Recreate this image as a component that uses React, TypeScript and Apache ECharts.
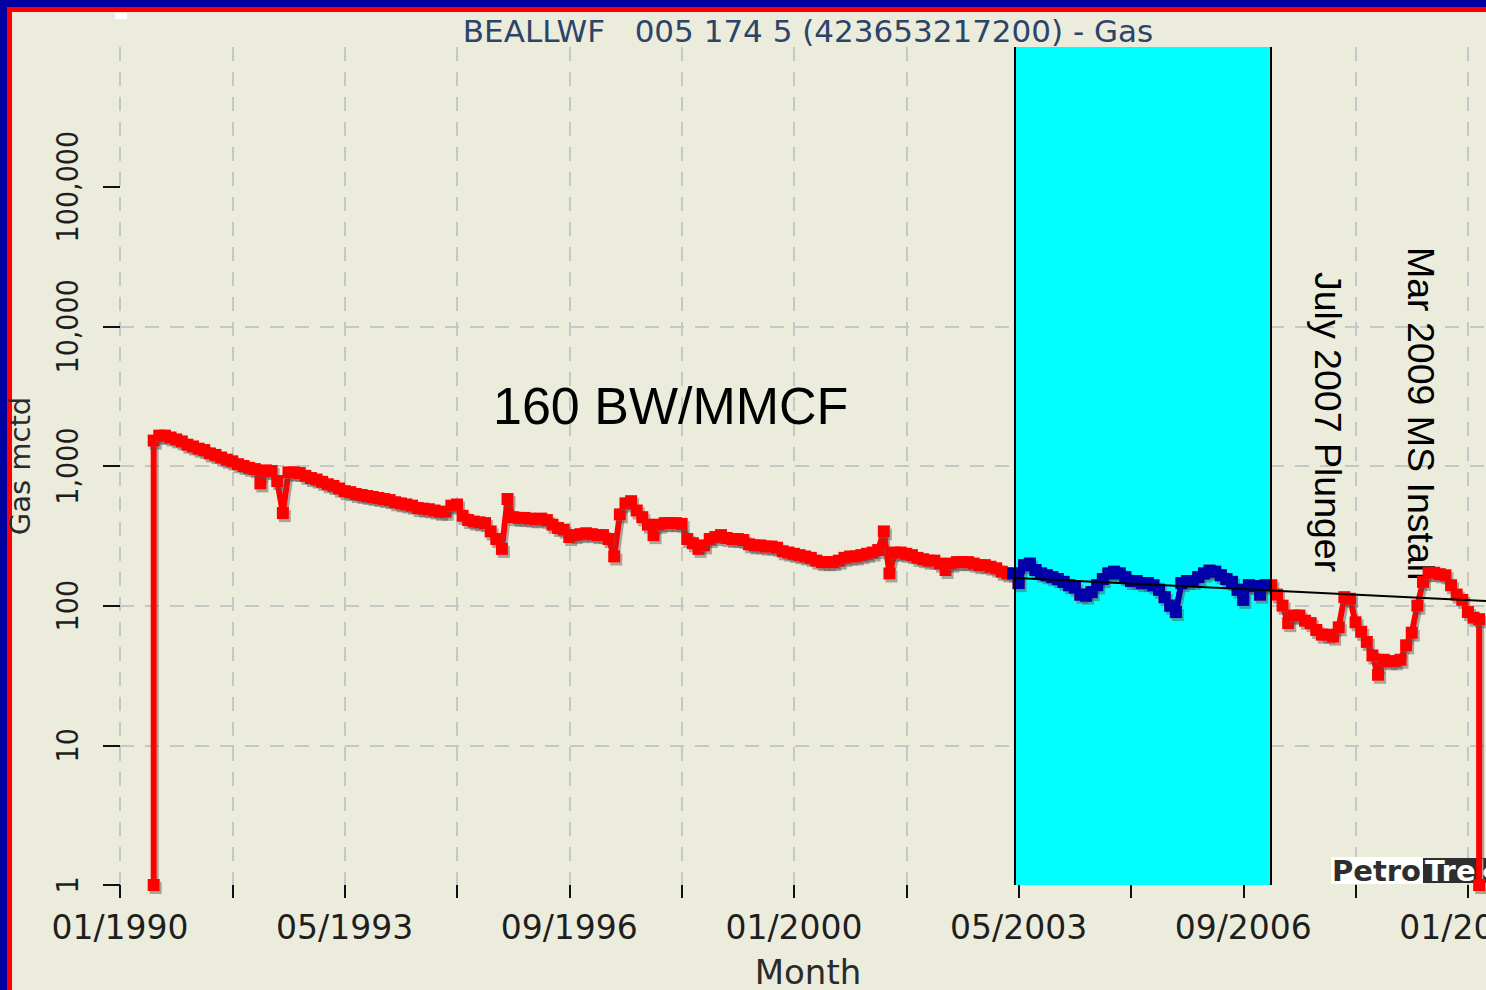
import React, { useEffect, useRef } from "react";
import * as echarts from "echarts";

// ---------- data ----------
const TITLE = "BEALLWF\u00a0\u00a0\u00a0005 174 5 (423653217200) - Gas";
const X_NAME = "Month";
const Y_NAME = "Gas mctd";

// month index counted from 01/1990 (0 = Jan 1990)
const firstMonth = 6;
const dropValue = 1; // first and last readings fall to the bottom of the log scale
// monthly gas rate (mcf/d), months 6 .. 242
const gasValues = [
  1520, 1650, 1650, 1600, 1550, 1500, 1420, 1380, 1330, 1300, // 6-15
  1230, 1200, 1150, 1110, 1080, 1030, 1000, 970, 950, 750, // 16-25
  930, 920, 780, 460, 900, 900, 890, 850, 820, 800, // 26-35
  770, 740, 720, 690, 660, 650, 630, 620, 610, 600, // 36-45
  590, 580, 570, 550, 540, 530, 520, 500, 495, 490, // 46-55
  480, 470, 470, 520, 530, 440, 410, 400, 395, 390, // 56-65
  340, 300, 255, 580, 430, 425, 425, 420, 415, 420, // 66-75
  410, 380, 360, 350, 310, 320, 325, 330, 325, 320, // 76-85
  320, 300, 225, 450, 540, 560, 480, 430, 380, 320, // 86-95
  380, 390, 390, 390, 385, 300, 280, 255, 270, 300, // 96-105
  310, 320, 305, 300, 300, 295, 275, 270, 270, 265, // 106-115
  265, 260, 245, 240, 235, 230, 225, 220, 210, 205, // 116-125
  205, 205, 210, 220, 225, 225, 230, 235, 240, 250, // 126-135
  340, 170, 240, 240, 235, 230, 220, 215, 210, 210, // 136-145
  200, 180, 200, 205, 205, 205, 200, 195, 195, 190, // 146-155
  185, 175, 170, 170, 145, 195, 200, 180, 170, 165, // 156-165
  160, 155, 148, 140, 135, 120, 118, 125, 140, 155, // 166-175
  170, 175, 170, 160, 150, 150, 145, 145, 140, 130, // 176-185
  115, 100, 90, 145, 150, 150, 160, 170, 178, 175, // 186-195
  165, 155, 148, 130, 110, 140, 138, 120, 140, 140, // 196-205
  120, 100, 75, 85, 85, 78, 75, 67, 62, 62, // 206-215
  60, 70, 115, 112, 76, 65, 55, 44, 32, 41, // 216-225
  40, 40, 41, 52, 64, 100, 148, 171, 172, 168, // 226-235
  165, 140, 120, 110, 90, 82, 80, // 236-242
];
const highlightMonths = [159, 204]; // months drawn in blue
const highlightRange = [159.3, 204.9]; // cyan analysis window
const trendMonths = [159.3, 245];
const trendValues = [158, 107];
const xMin = 0;
const xMax = 245;
const xTickStep = 20;
const xLabelStep = 40;
const yTickValues = [1, 10, 100, 1000, 10000, 100000];
const yMin = 1;
const yMax = 1000000;

const noteRatio = "160 BW/MMCF";
const notePlunger = "July 2007 Plunger";
const noteMS = "Mar 2009 MS Install";

// ---------- helpers ----------
const monthLabel = (m: number) => {
  const mm = (m % 12) + 1;
  const yy = 1990 + Math.floor(m / 12);
  return `${String(mm).padStart(2, "0")}/${yy}`;
};
const commas = (v: number) =>
  String(Math.round(v)).replace(/\B(?=(\d{3})+(?!\d))/g, ",");

const monthly = gasValues.map((v, i) => [firstMonth + i, v]);
const gasData = [
  [firstMonth, dropValue],
  ...monthly,
  [firstMonth + gasValues.length - 1, dropValue],
];
const blueData = monthly.filter(
  ([m]) => m >= highlightMonths[0] && m <= highlightMonths[1]
);
const trendData = trendMonths.map((m, i) => [m, trendValues[i]]);

const RED = "#FF0000";
const BLUE = "#0000A8";
const GRID_LINE = { color: "#C6C6C6", type: [14, 11], width: 2 };
const LABEL_COLOR = "#1E1E1E";

const shadow = {
  shadowColor: "rgba(80,80,80,0.45)",
  shadowOffsetX: 2,
  shadowOffsetY: 3,
  shadowBlur: 1,
};

const option: any = {
  animation: false,
  backgroundColor: "transparent",
  grid: {
    left: 120,
    top: 47,
    right: 24,
    bottom: 105,
    show: false,
    containLabel: false,
    outerBoundsMode: "none",
  },
  xAxis: {
    type: "value",
    min: xMin,
    max: xMax,
    interval: xTickStep,
    z: 1,
    name: X_NAME,
    nameLocation: "middle",
    nameGap: 73,
    nameTextStyle: {
      fontFamily: "DejaVu Sans",
      fontSize: 34,
      lineHeight: 28,
      color: "#2a2a2a",
    },
    axisLine: { show: false },
    axisTick: { show: true, length: 13, lineStyle: { color: "#111", width: 2 } },
    axisLabel: {
      fontFamily: "DejaVu Sans",
      fontSize: 33,
      color: LABEL_COLOR,
      margin: 26,
      hideOverlap: false,
      showMinLabel: true,
      showMaxLabel: true,
      formatter: (v: number) =>
        Math.abs(v % xLabelStep) < 1e-6 ? monthLabel(Math.round(v)) : "",
    },
    splitLine: { show: true, lineStyle: GRID_LINE },
  },
  yAxis: {
    type: "log",
    logBase: 10,
    min: yMin,
    max: yMax,
    z: 1,
    name: Y_NAME,
    nameLocation: "middle",
    nameGap: 86,
    nameTextStyle: { fontFamily: "DejaVu Sans", fontSize: 29, color: "#2a2a2a" },
    axisLine: { show: false },
    axisTick: {
      show: true,
      length: 17,
      customValues: yTickValues,
      lineStyle: { color: "#111", width: 2 },
    },
    axisLabel: {
      rotate: 90,
      margin: 38,
      customValues: yTickValues,
      fontFamily: "'DejaVu Sans Condensed', sans-serif",
      fontSize: 30,
      color: LABEL_COLOR,
      formatter: (v: number) => commas(v),
    },
    splitLine: {
      show: true,
      showMinLine: false,
      showMaxLine: false,
      lineStyle: GRID_LINE,
    },
  },
  series: [
    {
      name: "window",
      type: "line",
      data: [],
      z: 0,
      silent: true,
      markArea: {
        silent: true,
        itemStyle: { color: "#00FFFF", opacity: 1 },
        data: [[{ xAxis: highlightRange[0] }, { xAxis: highlightRange[1] }]],
      },
    },
    {
      name: "bounds",
      type: "line",
      data: [],
      z: 2,
      silent: true,
      markLine: {
        silent: true,
        symbol: "none",
        label: { show: false },
        lineStyle: { color: "#000", width: 2, type: "solid" },
        data: [{ xAxis: highlightRange[0] }, { xAxis: highlightRange[1] }],
      },
    },
    {
      name: "Gas",
      type: "line",
      data: gasData,
      z: 3,
      clip: true,
      symbol: "rect",
      symbolSize: 12,
      showAllSymbol: true,
      lineStyle: { color: RED, width: 6, ...shadow },
      itemStyle: { color: RED, ...shadow },
      emphasis: { disabled: true },
    },
    {
      name: "Selected",
      type: "line",
      data: blueData,
      z: 4,
      clip: true,
      symbol: "rect",
      symbolSize: 12,
      showAllSymbol: true,
      lineStyle: { color: BLUE, width: 6 },
      itemStyle: { color: BLUE },
      emphasis: { disabled: true },
    },
    {
      name: "Trend",
      type: "line",
      data: trendData,
      z: 5,
      symbol: "none",
      lineStyle: { color: "#000", width: 2 },
      emphasis: { disabled: true },
    },
  ],
  graphic: [
    {
      type: "rect",
      z: 10,
      shape: { x: 115, y: 13, width: 12, height: 6 },
      style: { fill: "#FFFFFF" },
    },
    {
      type: "text",
      z: 10,
      x: 808,
      y: 31,
      style: {
        text: TITLE,
        fontFamily: "DejaVu Sans",
        fontSize: 31,
        fill: "#2B4468",
        textAlign: "center",
        textVerticalAlign: "middle",
        align: "center",
        verticalAlign: "middle",
      },
    },
    {
      type: "text",
      z: 2,
      x: 493,
      y: 406,
      style: {
        text: noteRatio,
        fontFamily: "'Liberation Sans', Arial, sans-serif",
        fontSize: 52,
        fill: "#000",
        textAlign: "left",
        textVerticalAlign: "middle",
        align: "left",
        verticalAlign: "middle",
      },
    },
    {
      type: "text",
      z: 2,
      x: 1328,
      y: 272,
      rotation: -Math.PI / 2,
      style: {
        text: notePlunger,
        fontFamily: "'Liberation Sans', Arial, sans-serif",
        fontSize: 37.5,
        fill: "#000",
        textAlign: "left",
        textVerticalAlign: "middle",
        align: "left",
        verticalAlign: "middle",
      },
    },
    {
      type: "text",
      z: 2,
      x: 1421,
      y: 247,
      rotation: -Math.PI / 2,
      style: {
        text: noteMS,
        fontFamily: "'Liberation Sans', Arial, sans-serif",
        fontSize: 37.5,
        fill: "#000",
        textAlign: "left",
        textVerticalAlign: "middle",
        align: "left",
        verticalAlign: "middle",
      },
    },
    {
      type: "group",
      x: 1331,
      y: 857,
      z: 2,
      children: [
        {
          type: "rect",
          z: 2,
          shape: { x: 0, y: 0, width: 94, height: 27 },
          style: { fill: "#FFFFFF" },
        },
        {
          type: "rect",
          z: 2,
          shape: { x: 92, y: 1, width: 80, height: 25 },
          style: { fill: "#2E2E2E" },
        },
        {
          type: "text",
          z: 2,
          x: 1,
          y: 14,
          style: {
            text: "Petro",
            fontFamily: "DejaVu Sans",
            fontWeight: "bold",
            fontSize: 29,
            fill: "#2E2E2E",
            textAlign: "left",
            textVerticalAlign: "middle",
            align: "left",
            verticalAlign: "middle",
          },
        },
        {
          type: "text",
          z: 2,
          x: 94,
          y: 14,
          style: {
            text: "Trek",
            fontFamily: "DejaVu Sans",
            fontWeight: "bold",
            fontSize: 29,
            fill: "#FFFFFF",
            textAlign: "left",
            textVerticalAlign: "middle",
            align: "left",
            verticalAlign: "middle",
          },
        },
      ],
    },
  ],
};

export default function App() {
  const ref = useRef<HTMLDivElement>(null);
  useEffect(() => {
    if (!ref.current) return;
    const chart = echarts.init(ref.current, undefined, { renderer: "svg" });
    chart.setOption(option);
    return () => chart.dispose();
  }, []);
  return (
    <div
      style={{
        position: "fixed",
        left: 0,
        top: 0,
        width: 1486,
        height: 990,
        overflow: "hidden",
        background: "#0000A0",
      }}
    >
      <div
        style={{
          position: "absolute",
          left: 7,
          top: 7,
          width: 1700,
          height: 1200,
          background: "#FF0000",
        }}
      />
      <div
        style={{
          position: "absolute",
          left: 12,
          top: 12,
          width: 1700,
          height: 1200,
          background: "#ECECDC",
        }}
      />
      <div
        ref={ref}
        style={{ position: "absolute", left: 0, top: 0, width: 1520, height: 990 }}
      />
    </div>
  );
}
